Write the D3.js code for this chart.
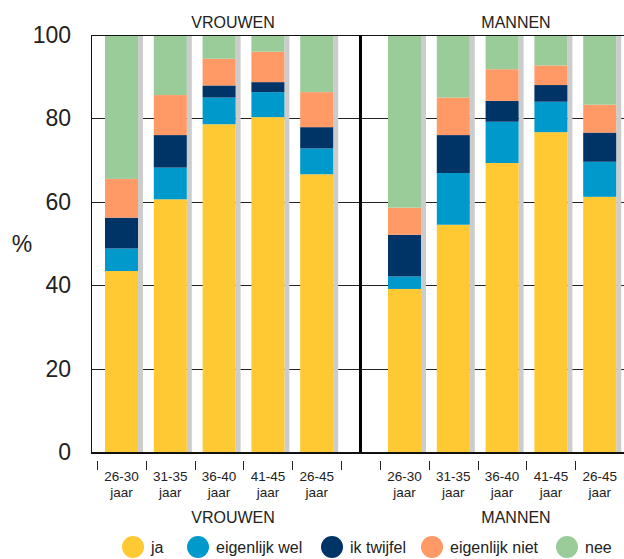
<!DOCTYPE html>
<html>
<head>
<meta charset="utf-8">
<script src="https://cdn.jsdelivr.net/npm/d3@7"></script>
<style>
  body { margin: 0; background: #fff; }
  svg { display: block; font-family: "Liberation Sans", Arial, sans-serif; }
</style>
</head>
<body>
<svg id="chart" width="624" height="559"></svg>
<script>
// categories
var ages = ['26-30', '31-35', '36-40', '41-45', '26-45']
var groups = ['VROUWEN', 'MANNEN']
var answers = ['ja', 'eigenlijk wel', 'ik twijfel', 'eigenlijk niet', 'nee']
var colors = ['#ffc933', '#0099cc', '#003366', '#ff9966', '#99cc99']
var yTicks = [0, 20, 40, 60, 80, 100]

// percentages per answer, order of ages
var vrouwenJa = [43.4, 60.6, 78.6, 80.3, 66.6]
var vrouwenWel = [5.4, 7.6, 6.4, 6.0, 6.2]
var vrouwenTwijfel = [7.4, 7.8, 2.9, 2.4, 5.1]
var vrouwenNiet = [9.3, 9.6, 6.4, 7.3, 8.4]
var vrouwenNee = [34.5, 14.4, 5.7, 4.0, 13.7]

var mannenJa = [39.1, 54.5, 69.3, 76.7, 61.2]
var mannenWel = [3.0, 12.4, 9.9, 7.3, 8.4]
var mannenTwijfel = [10.0, 9.1, 5.0, 4.0, 7.0]
var mannenNiet = [6.5, 9.0, 7.6, 4.7, 6.7]
var mannenNee = [41.4, 15.0, 8.2, 7.3, 16.7]

function rows(cols) {
  return ages.map(function(a, i) {
    var r = { age: a }
    answers.forEach(function(k, j) { r[k] = cols[j][i] })
    return r
  })
}
var data = {
  VROUWEN: rows([vrouwenJa, vrouwenWel, vrouwenTwijfel, vrouwenNiet, vrouwenNee]),
  MANNEN: rows([mannenJa, mannenWel, mannenTwijfel, mannenNiet, mannenNee])
}

var svg = d3.select('#chart')
var pLeft = 91, pRight = 624, pTop = 35, pBottom = 452

var y = d3.scaleLinear().domain([0, 100]).range([pBottom, pTop])
var xs = {
  VROUWEN: d3.scaleBand().domain(ages).range([97, 341]),
  MANNEN: d3.scaleBand().domain(ages).range([380, 624])
}
var color = d3.scaleOrdinal().domain(answers).range(colors)
var barW = 33, shadowW = 5, off = 8

// gridlines
svg.append('g').selectAll('line')
  .data(yTicks.filter(function(d) { return d > 0 && d < 100 }))
  .enter().append('line')
    .attr('x1', pLeft).attr('x2', pRight)
    .attr('y1', d => Math.round(y(d)) + 0.5).attr('y2', d => Math.round(y(d)) + 0.5)
    .attr('stroke', '#222').attr('stroke-width', 1)

// y labels
svg.append('g').selectAll('text')
  .data(yTicks)
  .enter().append('text')
    .attr('x', 71).attr('y', d => y(d))
    .attr('text-anchor', 'end').attr('dominant-baseline', 'central')
    .style('font-size', '23px').attr('fill', '#222')
    .text(d => d)

svg.append('text')
  .attr('x', 22).attr('y', 244)
  .attr('text-anchor', 'middle').attr('dominant-baseline', 'central')
  .style('font-size', '23px').attr('fill', '#222')
  .text('%')

var stack = d3.stack().keys(answers)

groups.forEach(function(g) {
  var x = xs[g]
  var layer = svg.append('g')

  // shadow
  layer.selectAll('rect.shadow')
    .data(data[g])
    .enter().append('rect')
      .attr('class', 'shadow')
      .attr('x', d => x(d.age) + off + barW)
      .attr('width', shadowW)
      .attr('y', y(100))
      .attr('height', y(0) - y(100))
      .attr('fill', '#cccccc')

  layer.selectAll('g.serie')
    .data(stack(data[g]))
    .enter().append('g')
      .attr('class', 'serie')
      .attr('fill', d => color(d.key))
    .selectAll('rect')
    .data(d => d)
    .enter().append('rect')
      .attr('x', d => x(d.data.age) + off)
      .attr('width', barW)
      .attr('y', d => y(d[1]))
      .attr('height', d => y(d[0]) - y(d[1]))

  // tick marks below the axis
  var bounds = ages.map(d => x(d)).concat([x(ages[ages.length - 1]) + x.bandwidth()])
  svg.append('g').selectAll('line')
    .data(bounds.filter(b => b < 623))
    .enter().append('line')
      .attr('x1', d => Math.round(d) + 0.5).attr('x2', d => Math.round(d) + 0.5)
      .attr('y1', 461).attr('y2', 470)
      .attr('stroke', '#222')

  var lab = svg.append('g').selectAll('text')
    .data(ages)
    .enter().append('text')
      .attr('text-anchor', 'middle')
      .style('font-size', '13.5px').attr('fill', '#222')
  lab.append('tspan')
    .attr('x', d => x(d) + off + barW / 2).attr('y', 481)
    .text(d => d)
  lab.append('tspan')
    .attr('x', d => x(d) + off + barW / 2).attr('y', 497)
    .text('jaar')

  var mid = (x.range()[0] + x.range()[1]) / 2 + 14
  svg.append('text')
    .attr('x', mid).attr('y', 28)
    .attr('text-anchor', 'middle')
    .style('font-size', '16px').attr('fill', '#222')
    .text(g)
  svg.append('text')
    .attr('x', mid).attr('y', 523)
    .attr('text-anchor', 'middle')
    .style('font-size', '16px').attr('fill', '#222')
    .text(g)
})

// frame
svg.append('line')
  .attr('x1', pLeft + 0.5).attr('x2', pLeft + 0.5).attr('y1', pTop).attr('y2', pBottom)
  .attr('stroke', '#111')
svg.append('line')
  .attr('x1', pLeft).attr('x2', pRight).attr('y1', pTop + 0.5).attr('y2', pTop + 0.5)
  .attr('stroke', '#111')
svg.append('line')
  .attr('x1', pLeft).attr('x2', pRight).attr('y1', pBottom + 1).attr('y2', pBottom + 1)
  .attr('stroke', '#111').attr('stroke-width', 2)
svg.append('line')
  .attr('x1', 360.5).attr('x2', 360.5).attr('y1', pTop).attr('y2', pBottom)
  .attr('stroke', '#000').attr('stroke-width', 3)

// legend
var legX = [133, 198, 332, 432, 567]
var leg = svg.append('g').selectAll('g')
  .data(answers)
  .enter().append('g')
    .attr('transform', (d, i) => 'translate(' + legX[i] + ',547)')
leg.append('circle').attr('r', 11).attr('fill', d => color(d))
leg.append('text')
  .attr('x', 18).attr('y', 6)
  .style('font-size', '16px').attr('fill', '#222')
  .text(d => d)
</script>
</body>
</html>
